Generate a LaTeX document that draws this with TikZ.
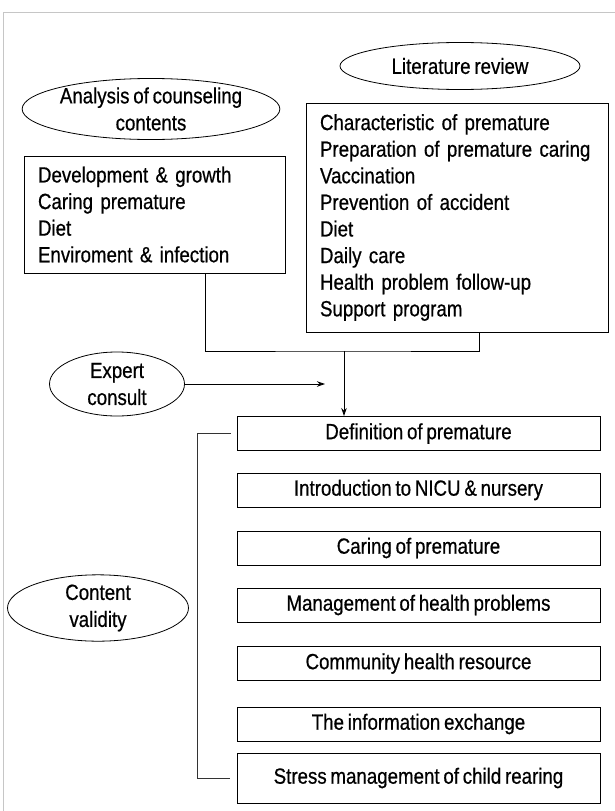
\documentclass[tikz,border=0pt]{standalone}
\usepackage{fontspec}
\setmainfont[FakeStretch=0.85,FakeBold=0.6]{Liberation Sans}
\usetikzlibrary{shapes.geometric,arrows.meta,calc}
\newcommand{\diagfont}[1]{\fontsize{22}{#1}\selectfont\spaceskip=3.8pt plus 1pt minus 0.5pt\relax}
\begin{document}
\begin{tikzpicture}[x=1pt,y=-1pt,
  oval/.style={ellipse,draw,line width=0.8pt,inner sep=0pt,align=center,font=\diagfont{27pt}},
  listbox/.style={draw,line width=0.9pt,align=left,inner ysep=0pt,inner xsep=14pt,font=\diagfont{26.6pt}},
  stepbox/.style={draw,line width=0.9pt,minimum width=363pt,minimum height=34pt,inner sep=0pt,font=\diagfont{24pt}},
  conn/.style={line width=0.9pt},
  arr/.style={conn,-{Stealth[length=8pt,width=5.5pt]}}]
\useasboundingbox (0,0) rectangle (615,811);
\draw[gray!45,line width=0.7pt] (3,811) -- (3,12) -- (615,12);

% top ellipses
\node[oval,minimum width=240pt,minimum height=47pt] (lit) at (460,66) {Literature review};
\node[oval,minimum width=227pt,minimum height=58pt] (ana) at (151,109) {Analysis of counseling\\contents};

% list boxes
\node[listbox,text width=233pt,minimum height=117pt] (lbox) at (154.5,214.5)
  {Development \& growth\\Caring premature\\Diet\\Enviroment \& infection};
\node[listbox,text width=274pt,minimum height=229pt] (rbox) at (457,217.5)
  {Characteristic of premature\\Preparation of premature caring\\Vaccination\\Prevention of accident\\Diet\\Daily care\\Health problem follow-up\\Support program};

% expert consult
\node[oval,minimum width=135pt,minimum height=64pt] (exp) at (117,384) {Expert\\consult};
\coordinate (ea) at (325,384);

% step boxes
\node[stepbox] (def) at (418.5,433.5) {Definition of premature};
\node[stepbox] (nicu) at (418.5,490) {Introduction to NICU \& nursery};
\node[stepbox] (care) at (418.5,548) {Caring of premature};
\node[stepbox] (mgmt) at (418.5,605) {Management of health problems};
\node[stepbox] (comm) at (418.5,663.5) {Community health resource};
\node[stepbox] (info) at (418.5,724) {The information exchange};
\node[stepbox,minimum height=50pt] (stress) at (418.5,778) {Stress management of child rearing};

% content validity
\node[oval,minimum width=181pt,minimum height=63pt] (cv) at (98,608) {Content\\validity};

% connectors
\coordinate (j) at (344,351);
\draw[conn] ($(lbox.south west)+(182,0)$) |- (j) -| ($(rbox.south west)+(174,0)$);
\draw[arr] (j) -- (j |- def.north);
\draw[arr] (exp.east) -- (ea);
\draw[conn,black!80] ([xshift=-6pt]def.west) -| ([xshift=-39pt]stress.west) -- ([xshift=-7pt]stress.west);
\end{tikzpicture}
\end{document}
